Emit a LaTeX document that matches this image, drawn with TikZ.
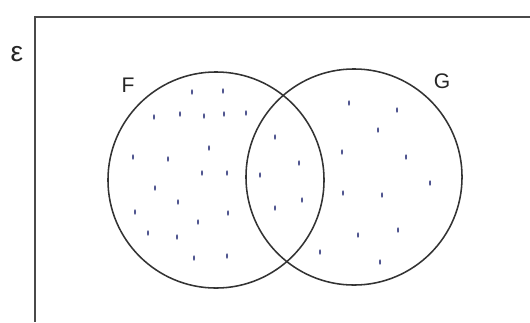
\documentclass[tikz,border=0pt]{standalone}
\usepackage{fontspec}
\setmainfont{Liberation Sans}
\usepackage{tikz}
\definecolor{linecol}{HTML}{333333}
\definecolor{boxcol}{HTML}{4A4A4A}
\definecolor{dotcol}{HTML}{50558F}

\begin{document}
\begin{tikzpicture}[x=0.025cm, y=-0.025cm,
  setcirc/.style={draw=linecol, line width=1.1pt},
  frame/.style={draw=boxcol, line width=0.8pt},
  setlbl/.style={font=\fontsize{15}{15}\selectfont, text=black!85},
  speck/.style={fill=dotcol, draw=none}
]
  \useasboundingbox (0,0) rectangle (530,322);

  % universal set
  \draw[frame] (530,17) -- (35,17) -- (35,322);
  \node[font=\fontsize{20}{20}\selectfont, text=black!85] (eps) at (17,54) {ε};

  % F and G
  \coordinate (cF) at (216,180);
  \coordinate (cG) at (354,177);
  \draw[setcirc] (cF) circle[radius=2.7cm];
  \draw[setcirc] (cG) circle[radius=2.7cm];
  \node[setlbl] (lF) at (128,85) {F};
  \node[setlbl] (lG) at (442,81) {G};

  % shading specks
  \foreach \px/\py in {192/92, 223/91, 154/117, 180/114, 204/116, 224/114, 246/113,
      209/148, 133/157, 168/159, 202/173, 227/173, 155/188, 178/202, 135/212,
      228/213, 198/222, 148/233, 177/237, 194/258, 227/256,
      275/137, 299/163, 260/175, 302/200, 275/208,
      349/103, 397/110, 378/130, 342/152, 406/157, 430/183, 343/193, 382/195,
      398/230, 358/235, 320/252, 380/262}
    \fill[speck] (\px,\py) ellipse[x radius=1, y radius=2.8];
\end{tikzpicture}
\end{document}
